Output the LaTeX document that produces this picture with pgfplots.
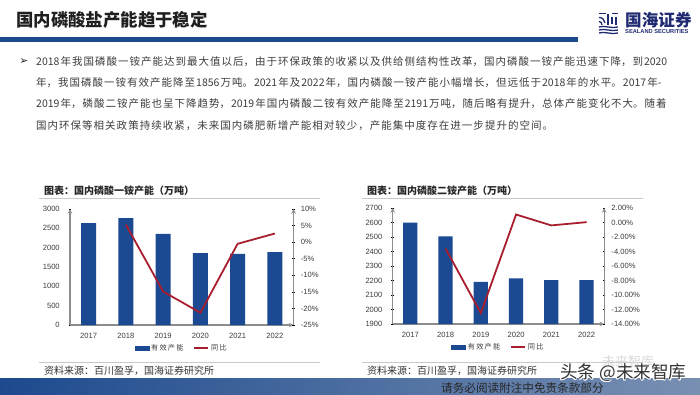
\documentclass[border=0pt]{standalone}
\usepackage{fontspec}
\usepackage{pgfplots}
\pgfplotsset{compat=1.18}
\setmainfont{Noto Sans CJK SC}
\newfontfamily\latinf{Liberation Sans}
\newfontfamily\cjkit[AutoFakeSlant=0.2]{Noto Sans CJK SC}
\definecolor{barb}{HTML}{1B4A92}
\definecolor{liner}{HTML}{A81E2E}
\definecolor{bandb}{HTML}{1D4A8E}
\definecolor{navy}{HTML}{1F2A70}
\definecolor{ax}{HTML}{8C8C8C}
\definecolor{txt}{HTML}{3C3C3C}
\definecolor{rulec}{HTML}{C8C8C8}
\XeTeXlinebreaklocale "zh"
\XeTeXlinebreakskip=1.0pt plus 2pt minus 0.5pt
\newcommand{\fs}[1]{\fontsize{#1}{#1}\selectfont}
\newcommand{\bodyline}[2]{\node[anchor=west,inner sep=0pt,text width=642pt,text=txt] at (36pt,#1pt) {\fs{10.5}\parfillskip=0pt #2};}
\pgfplotsset{
  basea/.style={
    scale only axis, width=223.5pt, height=116pt,
    xmin=-0.5, xmax=5.5,
    tick align=inside,
    major tick length=2.5pt, minor tick length=2.5pt,
    tick style={black,line width=0.5pt},
    axis line style={ax,line width=1.1pt,-},
    tick label style={font=\latinf\fs{7.6},text=txt},
  },
  leftbar/.style={
    basea, axis x line=bottom, axis y line=left,
    xtick={0,1,2,3,4,5}, xticklabels={2017,2018,2019,2020,2021,2022},
    minor xtick={-0.5,0.5,1.5,2.5,3.5,4.5,5.5},
    x tick style={draw=none}, minor x tick style={black,line width=0.5pt},
    xticklabel style={yshift=-3pt},
    yticklabel style={xshift=-5.5pt},
  },
  rightline/.style={
    basea, axis x line=none, axis y line=right,
    yticklabel style={xshift=2.5pt,anchor=west},
    legend cell align=left,
    legend style={at={(0.5,-0.2)},anchor=center,draw=none,fill=none,
      legend columns=2,font=\fs{7.2},text=txt,inner sep=0pt,
      /tikz/every even column/.append style={column sep=8pt}},
  },
  barimg/.style={legend image code/.code={\fill[barb] (0pt,-1.8pt) rectangle (14pt,1.8pt);}},
  lineimg/.style={legend image code/.code={\draw[liner,line width=1.6pt] (0pt,0pt) -- (14pt,0pt);}},
}
\begin{document}
\begin{tikzpicture}[x=1pt,y=1pt]
\useasboundingbox (0,0) rectangle (700,394);
% header
\node[anchor=west,inner sep=0pt,text=black!88] at (16,374) {\fs{17.4}\bfseries 国内磷酸盐产能趋于稳定};
\fill[bandb] (0,352) rectangle (578,357);
% logo
\begin{scope}[navy,line width=1.3pt]
 \draw (599,380.5) -- (606,380.5) (612,380.5) -- (618,380.5);
 \draw (599,376.5) .. controls (603,376.5) and (604,374) .. (605,371);
 \draw (599,372.5) .. controls (601,372.5) and (602,371) .. (602,369);
 \draw (608,380) -- (608,369) (612,377) -- (612,370) (616,377) -- (616,369);
 \draw (599,367) .. controls (604,369) and (612,365) .. (618,367);
 \draw (599,364) .. controls (604,366) and (612,362) .. (618,364);
 \draw (599,361) .. controls (604,363) and (612,359) .. (618,361);
\end{scope}
\node[anchor=west,inner sep=0pt,text=navy] at (625,373.5) {\fs{16.6}\bfseries 国海证券};
\node[anchor=west,inner sep=0pt,text=navy] at (625,362) {\latinf\fs{5.7}\bfseries SEALAND SECURITIES};
% body
\node[anchor=center,inner sep=0pt,text=black!85] at (24,332) {\fontspec{DejaVu Sans}\fs{11}➢};
\bodyline{332}{2018年我国磷酸一铵产能达到最大值以后，由于环保政策的收紧以及供给侧结构性改革，国内磷酸一铵产能迅速下降，到2020}
\bodyline{311}{年，我国磷酸一铵有效产能降至1856万吨。2021年及2022年，国内磷酸一铵产能小幅增长，但远低于2018年的水平。2017年-}
\bodyline{290}{2019年，磷酸二铵产能也呈下降趋势，2019年国内磷酸二铵有效产能降至2191万吨，随后略有提升，总体产能变化不大。随着}
\node[anchor=west,inner sep=0pt,text=txt] at (36,268.5) {\fs{10.5}\XeTeXlinebreakskip=0pt \addfontfeatures{LetterSpace=9.6}国内环保等相关政策持续收紧，未来国内磷肥新增产能相对较少，产能集中度存在进一步提升的空间。};
% chart frames
\node[anchor=west,inner sep=0pt,text=black!85] at (44,203) {\fs{10}\bfseries 图表：国内磷酸一铵产能（万吨）};
\draw[rulec,line width=0.8pt] (39,196) -- (320,196);
\draw[rulec,line width=0.8pt] (39,32) -- (320,32);
\node[anchor=west,inner sep=0pt,text=black!80] at (44,23) {\cjkit\fs{10}资料来源：百川盈孚，国海证券研究所};
\node[anchor=west,inner sep=0pt,text=black!85] at (367,203) {\fs{10}\bfseries 图表：国内磷酸二铵产能（万吨）};
\draw[rulec,line width=0.8pt] (362,196) -- (643,196);
\draw[rulec,line width=0.8pt] (362,32) -- (643,32);
\node[anchor=west,inner sep=0pt,text=black!80] at (367,23) {\cjkit\fs{10}资料来源：百川盈孚，国海证券研究所};
% left chart
\begin{axis}[leftbar, at={(70pt,69pt)}, anchor=south west,
  ymin=0, ymax=3000, ytick={0,500,1000,1500,2000,2500,3000},
  yticklabels={0,500,1000,1500,2000,2500,3000}]
\addplot[ybar,bar width=15pt,fill=barb,draw=none] coordinates {(0,2635)(1,2767)(2,2360)(3,1856)(4,1842)(5,1885)};
\end{axis}
\begin{axis}[rightline, at={(70pt,69pt)}, anchor=south west,
  ymin=-25, ymax=10, ytick={-25,-20,-15,-10,-5,0,5,10},
  yticklabels={-25\%,-20\%,-15\%,-10\%,-5\%,0\%,5\%,10\%},
  legend entries={有\,效\,产\,能,同\,比}]
\addlegendimage{barimg}
\addlegendimage{lineimg}
\addplot[forget plot,liner,line width=1.8pt] coordinates {(1,5.3)(2,-14.9)(3,-21.3)(4,-0.5)(5,2.6)};
\end{axis}
% right chart
\begin{axis}[leftbar, at={(392.7pt,70pt)}, anchor=south west, width=211.5pt,
  ymin=1900, ymax=2700, ytick={1900,2000,2100,2200,2300,2400,2500,2600,2700},
  yticklabels={1900,2000,2100,2200,2300,2400,2500,2600,2700}]
\addplot[ybar,bar width=14.3pt,fill=barb,draw=none] coordinates {(0,2600)(1,2505)(2,2191)(3,2215)(4,2203)(5,2203)};
\end{axis}
\begin{axis}[rightline, at={(392.7pt,70pt)}, anchor=south west, width=211.5pt,
  ymin=-14, ymax=2, ytick={-14,-12,-10,-8,-6,-4,-2,0,2},
  yticklabels={-14.00\%,-12.00\%,-10.00\%,-8.00\%,-6.00\%,-4.00\%,-2.00\%,0.00\%,2.00\%},
  legend entries={有\,效\,产\,能,同\,比}]
\addlegendimage{barimg}
\addlegendimage{lineimg}
\addplot[forget plot,liner,line width=1.8pt] coordinates {(1,-3.6)(2,-12.5)(3,1.1)(4,-0.4)(5,0.05)};
\end{axis}
% footer
\shade[left color=bandb,right color=bandb!60!white!85!gray] (0,0) rectangle (700,16);
\node[anchor=west,inner sep=0pt,text=black!85] at (441,6) {\fs{11.6}请务必阅读附注中免责条款部分};
% watermark
\node[anchor=west,inner sep=0pt,text=black!15] at (602,32) {\fs{13}未来智库};
\foreach \dx/\dy in {-0.7/0,0.7/0,0/-0.7,0/0.7,-0.6/-0.6,0.6/0.6,-0.6/0.6,0.6/-0.6}{
  \node[anchor=west,inner sep=0pt,text=white] at (560+\dx,21+\dy) {\fs{17.6}头条 @未来智库};
}
\node[anchor=west,inner sep=0pt,text=black!80] at (560,21) {\fs{17.6}头条 @未来智库};
\end{tikzpicture}
\end{document}
